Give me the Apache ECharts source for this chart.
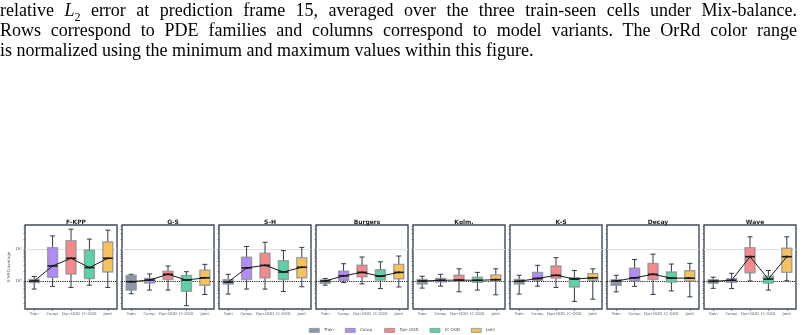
<!DOCTYPE html>
<html>
<head>
<meta charset="utf-8">
<style>
  html, body { margin: 0; padding: 0; background: #fff; }
  body { width: 804px; height: 335px; overflow: hidden; position: relative; }
  .caption {
    position: absolute; left: 0; top: 0; width: 797px;
    font-family: "Liberation Serif", "DejaVu Serif", serif;
    font-size: 18px; line-height: 20px; color: #000;
  }
  .caption div { white-space: nowrap; }
  .caption .just { text-align: justify; text-align-last: justify; white-space: normal; }
  .caption sub { font-size: 12px; line-height: 0; }
  #chart { position: absolute; left: 0; top: 0; width: 804px; height: 335px; }
</style>
</head>
<body>
<div id="chart"></div>
<div class="caption">
  <div class="just">relative <i>L</i><sub>2</sub> error at prediction frame 15, averaged over the three train-seen cells under Mix-balance.</div>
  <div class="just">Rows correspond to PDE families and columns correspond to model variants. The OrRd color range</div>
  <div>is normalized using the minimum and maximum values within this figure.</div>
</div>
<script src="https://cdn.jsdelivr.net/npm/echarts@6/dist/echarts.min.js"></script>
<script>
const categories = ["Train", "Comp.", "Dyn-OOD", "IC-OOD", "Joint"];
const panels = ["F-KPP", "G-S", "S-H", "Burgers", "Kolm.", "K-S", "Decay", "Wave"];
const colors = ["#8e97a8", "#b18cf5", "#f48a8a", "#5cd3a6", "#f7c25d"];

// each row: [min, q1, median, q3, max] per category
const fkpp = [[0.56, 0.89, 1.0, 1.12, 1.38], [0.68, 1.30, 2.95, 11.0, 25.7], [0.63, 1.66, 5.13, 18.2, 41.7], [0.74, 1.20, 2.63, 9.12, 20.4], [0.63, 1.91, 5.13, 16.6, 38.9]];
const gs = [[0.40, 0.52, 0.95, 1.48, 1.62], [0.52, 0.87, 1.07, 1.20, 1.66], [0.52, 1.12, 1.62, 2.04, 2.95], [0.17, 0.48, 1.07, 1.48, 1.95], [0.38, 0.74, 1.26, 2.19, 3.31]];
const sh = [[0.39, 0.81, 0.93, 1.10, 1.62], [0.56, 1.12, 2.57, 5.50, 12.0], [0.56, 1.26, 3.09, 7.41, 16.2], [0.47, 1.12, 1.91, 4.27, 8.91], [0.66, 1.26, 2.69, 5.37, 11.2]];
const burgers = [[0.74, 0.85, 1.0, 1.07, 1.20], [0.89, 1.05, 1.45, 2.04, 3.47], [0.81, 1.35, 1.86, 3.09, 5.62], [0.58, 1.07, 1.41, 2.24, 3.98], [0.65, 1.17, 1.86, 3.31, 6.03]];
const kolm = [[0.60, 0.81, 1.0, 1.12, 1.41], [0.69, 0.93, 1.05, 1.20, 1.62], [0.46, 0.98, 1.07, 1.51, 2.40], [0.52, 0.91, 1.05, 1.32, 1.86], [0.37, 0.98, 1.10, 1.55, 2.40]];
const ks = [[0.39, 0.81, 0.98, 1.12, 1.51], [0.69, 1.05, 1.20, 1.86, 3.09], [0.63, 1.23, 1.51, 2.95, 5.37], [0.23, 0.65, 1.15, 1.26, 2.14], [0.27, 1.05, 1.26, 1.70, 2.40]];
const decay = [[0.46, 0.74, 1.0, 1.10, 1.51], [0.68, 1.0, 1.26, 2.51, 4.68], [0.38, 1.12, 1.62, 3.55, 6.92], [0.49, 0.93, 1.23, 1.91, 3.39], [0.32, 1.0, 1.23, 2.09, 3.55]];
const wave = [[0.59, 0.85, 0.98, 1.10, 1.32], [0.58, 0.91, 1.05, 1.17, 1.74], [1.0, 1.82, 5.75, 11.0, 24.0], [0.52, 0.87, 1.15, 1.41, 2.14], [1.02, 1.86, 5.75, 10.5, 24.0]];
const panelData = [fkpp, gs, sh, burgers, kolm, ks, decay, wave];

const yMin = 0.1334, yMax = 56.2;
const majorTicks = [1, 10];
const majorLabels = ["10\u2070", "10\u00b9"];
const minorTicks = [0.2, 0.3, 0.4, 0.5, 0.6, 0.7, 0.8, 0.9, 1, 2, 3, 4, 5, 6, 7, 8, 9, 10, 20, 30, 40, 50];

const chart = echarts.init(document.getElementById("chart"));

function renderBox(params, api) {
  const x = api.value(0);
  const lo = api.coord([x, api.value(1)]);
  const q1 = api.coord([x, api.value(2)]);
  const med = api.coord([x, api.value(3)]);
  const q3 = api.coord([x, api.value(4)]);
  const hi = api.coord([x, api.value(5)]);
  const cx = lo[0], bw = 10, cap = 2.5;
  const ink = "#2e3a4d";
  return {
    type: "group",
    children: [
      { type: "line", shape: { x1: cx, y1: lo[1], x2: cx, y2: hi[1] }, style: { stroke: ink, lineWidth: 1 } },
      { type: "line", shape: { x1: cx - cap, y1: lo[1], x2: cx + cap, y2: lo[1] }, style: { stroke: ink, lineWidth: 1 } },
      { type: "line", shape: { x1: cx - cap, y1: hi[1], x2: cx + cap, y2: hi[1] }, style: { stroke: ink, lineWidth: 1 } },
      { type: "rect", shape: { x: cx - bw / 2, y: q3[1], width: bw, height: q1[1] - q3[1] },
        style: { fill: api.visual("color"), stroke: "rgba(135,140,150,0.75)", lineWidth: 1.4 } },
      { type: "line", shape: { x1: cx - bw / 2, y1: med[1], x2: cx + bw / 2, y2: med[1] }, style: { stroke: "#1a1a1a", lineWidth: 1.6 } }
    ]
  };
}

const grids = [], xAxes = [], yAxes = [], titles = [], series = [];
panels.forEach((name, i) => {
  const left = 25 + 97 * i;
  grids.push({ left: left, top: 225, width: 92, height: 84, show: true, borderColor: "#3f4a5c", borderWidth: 1.4, backgroundColor: "#fff" });
  titles.push({ text: name, left: left + 46, top: 214, textAlign: "center",
    textStyle: { fontSize: 6, fontWeight: "bold", color: "#222", fontFamily: "DejaVu Sans" } });
  xAxes.push({
    type: "category", gridIndex: i, data: categories,
    axisLine: { show: false },
    axisTick: { show: true, length: 2, alignWithLabel: true, lineStyle: { color: "#555", width: 0.6 } },
    axisLabel: { fontSize: 3.8, color: "#555", margin: 3, interval: 0, fontFamily: "DejaVu Sans" }
  });
  yAxes.push({
    type: "log", logBase: 10, gridIndex: i, min: yMin, max: yMax,
    axisLine: { show: false },
    splitLine: { show: false },
    axisTick: { show: true, length: 1.5, customValues: minorTicks, lineStyle: { color: "#3f4a5c", width: 0.6 } },
    axisLabel: {
      show: i === 0, customValues: majorTicks, fontSize: 4, color: "#555", margin: 3, fontFamily: "DejaVu Sans",
      formatter: v => majorLabels[majorTicks.indexOf(Math.round(v))] || ""
    },
    name: i === 0 ? "S-NRD/average" : "",
    nameLocation: "middle", nameGap: 14, nameRotate: 90,
    nameTextStyle: { fontSize: 4, color: "#555", fontFamily: "DejaVu Sans" }
  });
  const rows = panelData[i];
  categories.forEach((cat, c) => {
    series.push({
      type: "custom", name: cat, xAxisIndex: i, yAxisIndex: i,
      itemStyle: { color: colors[c] },
      renderItem: renderBox,
      encode: { x: 0, y: [1, 2, 3, 4, 5] },
      data: [[c].concat(rows[c])],
      z: 2
    });
  });
  series.push({
    type: "line", name: "median", xAxisIndex: i, yAxisIndex: i,
    data: rows.map(r => r[2]),
    symbol: "circle", symbolSize: 2.2,
    lineStyle: { color: "#1a1a1a", width: 1 },
    itemStyle: { color: "#1a1a1a" },
    z: 5,
    markLine: {
      silent: true, symbol: "none", label: { show: false }, z: 1,
      data: [
        { yAxis: 10, lineStyle: { color: "#dedede", type: "solid", width: 1 } },
        { yAxis: 1, lineStyle: { color: "#111", type: "dotted", width: 1.1 } }
      ]
    }
  });
});

chart.setOption({
  animation: false,
  title: titles,
  grid: grids,
  xAxis: xAxes,
  yAxis: yAxes,
  legend: {
    data: categories.map(n => ({ name: n, icon: "rect" })),
    left: "center", top: 323,
    itemWidth: 10, itemHeight: 4, itemGap: 11,
    itemStyle: { borderColor: "#8a8f99", borderWidth: 0.8 },
    textStyle: { fontSize: 4, color: "#444", fontFamily: "DejaVu Sans" }
  },
  series: series
});
</script>
</body>
</html>
